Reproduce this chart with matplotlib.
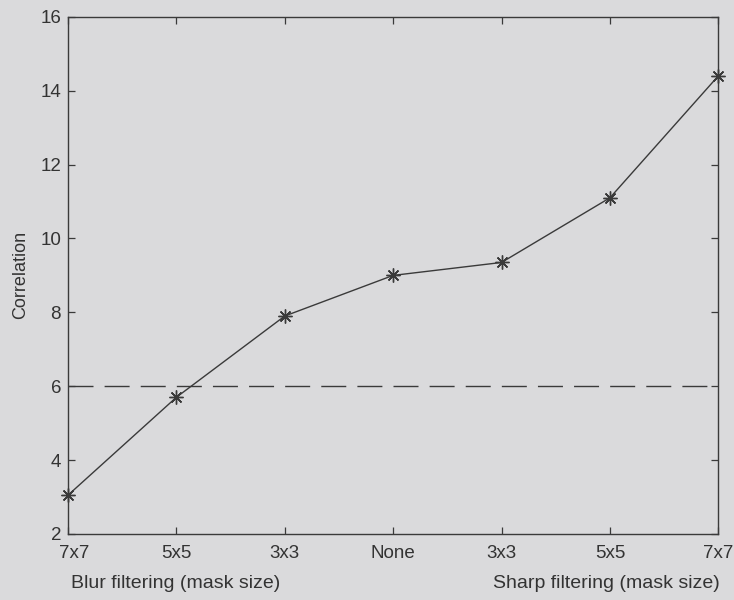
import matplotlib
matplotlib.use("Agg")
import matplotlib.pyplot as plt
from matplotlib.transforms import ScaledTranslation

categories = ["7x7", "5x5", "3x3", "None", "3x3", "5x5", "7x7"]
correlation = [3.05, 5.7, 7.9, 9.0, 9.35, 11.1, 14.4]
threshold = 6
yticks = [2, 4, 6, 8, 10, 12, 14, 16]

plt.rcParams['font.family'] = ['Liberation Sans', 'DejaVu Sans']
bg = '#dadadc'
ink = '#3a3a3a'
txt = '#333333'

fig = plt.figure(figsize=(7.34, 6.0), dpi=100, facecolor=bg)
ax = fig.add_axes([0.0926, 0.11, 0.886, 0.862], facecolor=bg)

x = list(range(len(categories)))
ax.plot(x, correlation, color=ink, lw=1.0, marker=(8, 2, 0), markersize=10,
        markeredgewidth=1.0, clip_on=False)
ax.axhline(threshold, color=ink, lw=1.0, dashes=(18, 8))

ax.set_xlim(0, len(categories) - 1)
ax.set_ylim(2, 16)
ax.set_xticks(x)
ax.set_xticklabels(categories)
ax.set_yticks(yticks)
ax.tick_params(direction='in', top=True, right=True, length=5, width=0.9,
               colors=ink, labelsize=13.5, labelcolor=txt)
ax.tick_params(axis='x', pad=8)
ax.tick_params(axis='y', pad=5)
# first x tick label sits slightly to the right of its tick, as in the reference
first = ax.get_xticklabels()[0]
first.set_transform(first.get_transform() + ScaledTranslation(6 / 100, 0, fig.dpi_scale_trans))
for s in ax.spines.values():
    s.set_color(ink)
    s.set_linewidth(1.0)

ax.set_ylabel("Correlation", fontsize=13, color=txt, labelpad=8)
fig.text(176 / 734, 1 - 584 / 600, "Blur filtering (mask size)", ha='center', va='center',
         fontsize=14, color=txt)
fig.text(606 / 734, 1 - 584 / 600, "Sharp filtering (mask size)", ha='center', va='center',
         fontsize=14, color=txt)

fig.savefig("out.png", dpi=100, facecolor=bg)
